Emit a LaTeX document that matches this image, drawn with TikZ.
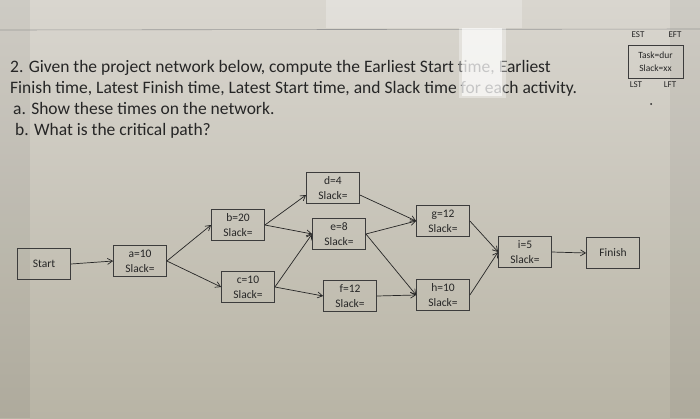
\documentclass[tikz,border=0pt]{standalone}
\usepackage{fontspec}
\setmainfont{Carlito}
\usetikzlibrary{arrows.meta}
\definecolor{ink}{HTML}{262626}
\definecolor{bgtop}{HTML}{D9D6CF}
\definecolor{bgbot}{HTML}{B8B4A5}
\begin{document}
\begin{tikzpicture}[x=1pt,y=-1pt,
  box/.style={draw=ink!90, line width=0.8pt, minimum width=53pt, minimum height=31pt, inner sep=1pt, align=center, font=\fontsize{11.5}{15}\selectfont, text=ink},
  arr/.style={-{Straight Barb[length=5pt,width=6pt]}, line width=0.7pt, draw=ink},
  title/.style={anchor=base west, inner sep=0pt, font=\fontsize{17.5}{20}\selectfont, text=ink},
  leg/.style={inner sep=0pt, font=\fontsize{9}{10}\selectfont, text=ink}]
\useasboundingbox (0,0) rectangle (700,418);
\shade[top color=bgtop, bottom color=bgbot] (0,0) rectangle (700,418);
\fill[black, opacity=0.05] (0,0) rectangle (30,418);
\fill[black, opacity=0.05] (670,0) rectangle (700,418);
\fill[white, opacity=0.25] (326,0) rectangle (522,28);
\draw[black!40, line width=0.6pt] (0,30) -- (700,29);
% title
\node[title] (l1) at (10,72) {2. Given the project network below, compute the Earliest Start time, Earliest};
\node[title] (l2) at (10,93) {Finish time, Latest Finish time, Latest Start time, and Slack time for each activity.};
\node[title] (l3) at (13,114) {a. Show these times on the network.};
\node[title] (l4) at (15,135) {b. What is the critical path?};
% glare
\fill[white, opacity=0.35] (459,28) rectangle (506,98);
\fill[white, opacity=0.6] (462,28) rectangle (502,96);
% legend
\node[draw=ink!90, line width=0.6pt, minimum width=55pt, minimum height=33pt, inner sep=0pt, align=center, font=\fontsize{9.5}{12.5}\selectfont, text=ink] (legbox) at (655.5,61.5) {Task=dur\\Slack=xx};
\node[leg] (est) at (638,35) {EST};
\node[leg] (eft) at (675,35) {EFT};
\node[leg] (lst) at (636,85) {LST};
\node[leg] (lft) at (670,85) {LFT};
\fill[ink] (651,104) circle (1pt);
% network
\node[box] (start) at (44,264) {Start};
\node[box] (a) at (140,261) {a=10\\Slack=};
\node[box] (b) at (238,225) {b=20\\Slack=};
\node[box] (c) at (248,287) {c=10\\Slack=};
\node[box] (d) at (333,188) {d=4\\Slack=};
\node[box] (e) at (339,234) {e=8\\Slack=};
\node[box] (f) at (350,296) {f=12\\Slack=};
\node[box] (g) at (443,221) {g=12\\Slack=};
\node[box] (h) at (443,295) {h=10\\Slack=};
\node[box] (i) at (525,252) {i=5\\Slack=};
\node[box] (fin) at (613,253) {Finish};
\draw[arr] (start.east) -- (a.west);
\draw[arr] (a.east) -- (b.west);
\draw[arr] (a.east) -- (c.west);
\draw[arr] (b.east) -- ([yshift=-7pt]d.west);
\draw[arr] (b.east) -- (e.west);
\draw[arr] (c.east) -- (e.west);
\draw[arr] (c.east) -- (f.west);
\draw[arr] ([yshift=-7pt]d.east) -- (g.west);
\draw[arr] (e.east) -- (g.west);
\draw[arr] (e.east) -- (h.west);
\draw[arr] (f.east) -- (h.west);
\draw[arr] (g.east) -- (i.west);
\draw[arr] (h.east) -- (i.west);
\draw[arr] (i.east) -- (fin.west);
\end{tikzpicture}
\end{document}
